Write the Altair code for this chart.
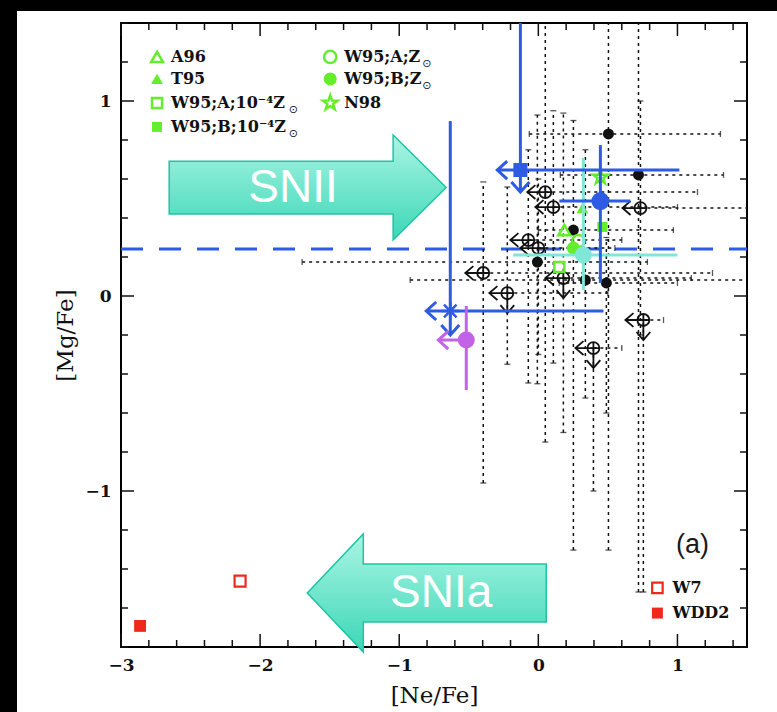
import altair as alt
import pandas as pd

# plot-area size in pixels and the axis ranges
W, H = 626, 624
X_DOMAIN = [-3.0, 1.5]
Y_DOMAIN = [-1.8, 1.4]

BLUE = "#2d5be3"
CYAN = "#80e6d8"
PURPLE = "#c262e6"
GREEN = "#63ee2b"
RED = "#f0281c"
INK = "#111111"

# ---------------- data ----------------
# observed detections (black filled circles) and their ranges
det_x = [0.504, 0.720, -0.007, 0.338, 0.489, 0.252]
det_y = [0.831, 0.621, 0.174, 0.082, 0.067, 0.338]
det_xlo = [-0.065, 0.158, -1.698, -0.921, 0.150, 0.000]
det_xhi = [1.309, 1.331, 0.784, 1.550, 1.000, 0.971]
det_ylo = [-1.303, -1.518, -0.450, -0.523, -0.600, -1.303]
det_yhi = [1.600, 1.600, 0.928, 0.750, 0.300, 0.900]

# observed upper limits (circled plus with arrows)
lim_x = [0.050, 0.108, 0.734, -0.072, 0.000, -0.396, -0.223, 0.180, 0.755, 0.396]
lim_y = [0.533, 0.456, 0.451, 0.287, 0.246, 0.118, 0.015, 0.092, -0.123, -0.267]
lim_xhi = [1.144, 1.000, 1.600, 0.600, 0.550, 1.252, 0.500, 1.100, 0.900, 0.600]
lim_ylo = [-0.749, -0.344, -0.200, -0.446, -0.300, -0.959, -0.350, -0.700, -1.518, -1.000]
lim_yhi = [1.600, 0.950, 1.000, 0.750, 0.600, 0.585, 0.559, 0.938, -0.123, -0.267]
lim_down = [False, False, False, False, False, False, True, True, True, True]

# blue points: square (limit), circle, asterisk (limit)
blue_x = [-0.129, 0.446, -0.633]
blue_y = [0.646, 0.487, -0.077]
blue_xlo = [-0.129, 0.151, -0.633]
blue_xhi = [1.014, 0.662, 0.468]
blue_ylo = [0.646, 0.067, -0.077]
blue_yhi = [1.600, 0.774, 0.897]

cyan_x, cyan_y = [0.324], [0.210]
cyan_xlo, cyan_xhi = [-0.180], [1.000]
cyan_ylo, cyan_yhi = [0.031], [0.708]

purple_x, purple_y = [-0.518], [-0.226]
purple_ylo, purple_yhi = [-0.482], [-0.051]

# SN II yield models (green)
model_names = ["A96", "T95", "W95;A;10⁻⁴Z", "W95;B;10⁻⁴Z", "W95;A;Z", "W95;B;Z", "N98"]
model_x = [0.187, 0.317, 0.151, 0.460, 0.288, 0.252, 0.446]
model_y = [0.338, 0.451, 0.149, 0.354, 0.282, 0.246, 0.610]

# SN Ia yield models (red)
ia_names = ["W7", "WDD2"]
ia_x = [-2.144, -2.863]
ia_y = [-1.462, -1.692]

solar_mgfe = [0.241]

x_major = [-3, -2, -1, 0, 1]
y_major = [-1, 0, 1]
x_minor = [round(-3 + 0.2 * i, 1) for i in range(23) if round(-3 + 0.2 * i, 1) not in x_major]
y_minor = [round(-1.8 + 0.2 * i, 1) for i in range(17) if round(-1.8 + 0.2 * i, 1) not in y_major]

# ---------------- axes / helpers ----------------
AXIS_STYLE = dict(ticks=False, domain=False, grid=False, labelFlush=False,
                  labelFont="DejaVu Serif", labelFontSize=17, labelFontWeight="bold", labelColor=INK,
                  labelPadding=10, titleFont="DejaVu Serif", titleFontSize=23, titleFontWeight="normal",
                  titleColor=INK, titleBaseline="middle", zindex=1)
X_AXIS = alt.Axis(values=x_major, title="[Ne/Fe]", titleY=48, **AXIS_STYLE)
Y_AXIS = alt.Axis(values=y_major, title="[Mg/Fe]", titleX=-56, **AXIS_STYLE)


def xs(field):
    return alt.X(f"{field}:Q", scale=alt.Scale(domain=X_DOMAIN, nice=False, zero=False), axis=X_AXIS)


def ys(field):
    return alt.Y(f"{field}:Q", scale=alt.Scale(domain=Y_DOMAIN, nice=False, zero=False), axis=Y_AXIS)


def pt(x, y, **extra):
    d = {"x": [x], "y": [y]}
    d.update({k: [v] for k, v in extra.items()})
    return pd.DataFrame(d)


STAR = ("M0,-1 L0.235,-0.324 L0.951,-0.309 L0.380,0.124 L0.588,0.809 L0,0.4 "
        "L-0.588,0.809 L-0.380,0.124 L-0.951,-0.309 L-0.235,-0.324 Z")
OPLUS = "M0.2,0 A0.2,0.2 0 1,1 -0.2,0 A0.2,0.2 0 1,1 0.2,0 Z M-0.2,0 L0.2,0 M0,-0.2 L0,0.2"
LEFT_SMALL = "M-0.2,0 L-0.6,0 M-0.33,-0.23 L-0.6,0 L-0.33,0.23"
DOWN_SMALL = "M0,0.2 L0,0.67 M-0.23,0.4 L0,0.67 L0.23,0.4"
SQ_ARROWS = "M0,0 L-0.77,0 M-0.44,-0.3 L-0.77,0 L-0.44,0.3 M0,0 L0,0.73 M-0.3,0.4 L0,0.73 L0.3,0.4"
AST_ARROWS = "M0,0 L-0.8,0 M-0.47,-0.3 L-0.8,0 L-0.47,0.3 M0,0 L0,0.8 M-0.3,0.47 L0,0.8 L0.3,0.47"
ASTERISK = "M-0.3,0 L0.3,0 M0,-0.3 L0,0.3 M-0.21,-0.21 L0.21,0.21 M-0.21,0.21 L0.21,-0.21"
PURPLE_LEFT = "M0,0 L-0.93,0 M-0.6,-0.3 L-0.93,0 L-0.6,0.3"
SNII_SHAPE = "M-1,-0.191 L0.617,-0.191 L0.617,-0.379 L1,0 L0.617,0.379 L0.617,0.191 L-1,0.191 Z"
SNIA_SHAPE = "M1,-0.243 L-0.531,-0.243 L-0.531,-0.494 L-1,0 L-0.531,0.494 L-0.531,0.243 L1,0.243 Z"

model_style = [
    ("triangle-up", False, 140),
    ("triangle-up", True, 140),
    ("square", False, 100),
    ("square", True, 100),
    ("circle", False, 150),
    ("circle", True, 170),
    (STAR, False, 230),
]

layers = []

# solar-ratio dashed line
layers.append(
    alt.Chart(pd.DataFrame({"y": solar_mgfe}))
    .mark_rule(color=BLUE, strokeWidth=3, strokeDash=[22, 16])
    .encode(y=ys("y"), x=alt.value(0), x2=alt.value(W))
)

# dotted ranges of the observed points
obs = pd.DataFrame({
    "x": det_x + lim_x, "y": det_y + lim_y,
    "xlo": det_xlo + lim_x, "xhi": det_xhi + lim_xhi,
    "ylo": det_ylo + lim_ylo, "yhi": det_yhi + lim_yhi,
})
dotted = dict(color=INK, strokeWidth=1.5, strokeDash=[3, 4], clip=True)
layers.append(alt.Chart(obs).mark_rule(**dotted).encode(x=xs("xlo"), x2="xhi", y=ys("y")))
layers.append(alt.Chart(obs).mark_rule(**dotted).encode(x=xs("x"), y=ys("ylo"), y2="yhi"))

hcaps = pd.DataFrame({"cx": det_xlo + det_xhi + lim_xhi,
                      "cy": det_y + det_y + lim_y})
vcaps = pd.DataFrame({"cx": list(obs["x"]) * 2,
                      "cy": list(obs["ylo"]) + list(obs["yhi"])})
layers.append(alt.Chart(hcaps).mark_tick(orient="vertical", size=6, thickness=1.3, color=INK, clip=True)
              .encode(x=xs("cx"), y=ys("cy")))
layers.append(alt.Chart(vcaps).mark_tick(orient="horizontal", size=6, thickness=1.3, color=INK, clip=True)
              .encode(x=xs("cx"), y=ys("cy")))

# detections
layers.append(alt.Chart(pd.DataFrame({"x": det_x, "y": det_y}))
              .mark_circle(size=121, color=INK, opacity=1).encode(x=xs("x"), y=ys("y")))

# upper limits
lim = pd.DataFrame({"x": lim_x, "y": lim_y, "down": lim_down})
sym = dict(filled=False, color=INK, strokeWidth=1.8, size=3600, opacity=1)
layers.append(alt.Chart(lim).mark_point(shape=OPLUS, **sym).encode(x=xs("x"), y=ys("y")))
layers.append(alt.Chart(lim).mark_point(shape=LEFT_SMALL, **sym).encode(x=xs("x"), y=ys("y")))
layers.append(alt.Chart(lim).transform_filter("datum.down")
              .mark_point(shape=DOWN_SMALL, **sym).encode(x=xs("x"), y=ys("y")))


def model_mark(df, shape, filled, size):
    if filled:
        return alt.Chart(df).mark_point(shape=shape, filled=True, color=GREEN, size=size,
                                        strokeWidth=0, opacity=1)
    return alt.Chart(df).mark_point(shape=shape, filled=False, color=GREEN, size=size,
                                    strokeWidth=2.5, opacity=1)


# SN II models in the data area
for (shape, filled, size), mx, my in zip(model_style, model_x, model_y):
    layers.append(model_mark(pt(mx, my), shape, filled, size).encode(x=xs("x"), y=ys("y")))

# cyan point
cyan = pd.DataFrame({"x": cyan_x, "y": cyan_y, "xlo": cyan_xlo, "xhi": cyan_xhi,
                     "ylo": cyan_ylo, "yhi": cyan_yhi})
layers.append(alt.Chart(cyan).mark_rule(color=CYAN, strokeWidth=3).encode(x=xs("xlo"), x2="xhi", y=ys("y")))
layers.append(alt.Chart(cyan).mark_rule(color=CYAN, strokeWidth=3).encode(x=xs("x"), y=ys("ylo"), y2="yhi"))
layers.append(alt.Chart(cyan).mark_circle(size=289, color=CYAN, opacity=1).encode(x=xs("x"), y=ys("y")))

# blue points
blue = pd.DataFrame({"x": blue_x, "y": blue_y, "xlo": blue_xlo, "xhi": blue_xhi,
                     "ylo": blue_ylo, "yhi": blue_yhi, "kind": ["square", "circle", "asterisk"]})
layers.append(alt.Chart(blue).mark_rule(color=BLUE, strokeWidth=3, clip=True)
              .encode(x=xs("xlo"), x2="xhi", y=ys("y")))
layers.append(alt.Chart(blue).mark_rule(color=BLUE, strokeWidth=3, clip=True)
              .encode(x=xs("x"), y=ys("ylo"), y2="yhi"))
layers.append(alt.Chart(blue).transform_filter("datum.kind == 'square'")
              .mark_point(shape="square", filled=True, color=BLUE, size=196, opacity=1)
              .encode(x=xs("x"), y=ys("y")))
layers.append(alt.Chart(blue).transform_filter("datum.kind == 'circle'")
              .mark_circle(color=BLUE, size=324, opacity=1).encode(x=xs("x"), y=ys("y")))
layers.append(alt.Chart(blue).transform_filter("datum.kind == 'square'")
              .mark_point(shape=SQ_ARROWS, filled=False, color=BLUE, strokeWidth=3, size=3600, opacity=1)
              .encode(x=xs("x"), y=ys("y")))
layers.append(alt.Chart(blue).transform_filter("datum.kind == 'asterisk'")
              .mark_point(shape=AST_ARROWS, filled=False, color=BLUE, strokeWidth=3, size=3600, opacity=1)
              .encode(x=xs("x"), y=ys("y")))
layers.append(alt.Chart(blue).transform_filter("datum.kind == 'asterisk'")
              .mark_point(shape=ASTERISK, filled=False, color=BLUE, strokeWidth=2.5, size=3600, opacity=1)
              .encode(x=xs("x"), y=ys("y")))

# purple point
purple = pd.DataFrame({"x": purple_x, "y": purple_y, "ylo": purple_ylo, "yhi": purple_yhi})
layers.append(alt.Chart(purple).mark_rule(color=PURPLE, strokeWidth=3).encode(x=xs("x"), y=ys("ylo"), y2="yhi"))
layers.append(alt.Chart(purple).mark_point(shape=PURPLE_LEFT, filled=False, color=PURPLE, strokeWidth=3,
                                           size=3600, opacity=1).encode(x=xs("x"), y=ys("y")))
layers.append(alt.Chart(purple).mark_circle(color=PURPLE, size=289, opacity=1).encode(x=xs("x"), y=ys("y")))

# SN Ia models
layers.append(alt.Chart(pt(ia_x[0], ia_y[0])).mark_point(shape="square", filled=False, color=RED,
                                                         strokeWidth=2.2, size=121, opacity=1)
              .encode(x=xs("x"), y=ys("y")))
layers.append(alt.Chart(pt(ia_x[1], ia_y[1])).mark_point(shape="square", filled=True, color=RED,
                                                         size=140, opacity=1)
              .encode(x=xs("x"), y=ys("y")))

# SNII / SNIa direction arrows
arrow_fill = alt.Gradient(
    gradient="linear",
    stops=[alt.GradientStop(color="#aaf5e4", offset=0), alt.GradientStop(color="#3cd7b6", offset=1)],
    x1=0, x2=0, y1=0, y2=1,
)
for shape, size, (ax, ay), label, (tx, ty) in [
    (SNII_SHAPE, 277 ** 2, (-1.658, 0.556), "SNII", (-1.763, 0.556)),
    (SNIA_SHAPE, 239 ** 2, (-0.802, -1.523), "SNIa", (-0.698, -1.523)),
]:
    layers.append(alt.Chart(pt(ax, ay)).mark_point(shape=shape, size=size, filled=True, fill=arrow_fill,
                                                   stroke="#1fc4a2", strokeWidth=1.5, opacity=1)
                  .encode(x=xs("x"), y=ys("y")))
    layers.append(alt.Chart(pt(tx, ty, t=label)).mark_text(font="Liberation Sans", fontSize=46, color="white",
                                                           align="center", baseline="middle")
                  .encode(x=xs("x"), y=ys("y"), text="t:N"))

# key for the SN II models (top left)
key_cols = [(-2.741, -2.640), (-1.496, -1.396)]
key_rows = [1.226, 1.113, 0.990, 0.867]
key_slots = [(0, 0), (0, 1), (0, 2), (0, 3), (1, 0), (1, 1), (1, 2)]
sun_x = {2: -1.795, 3: -1.795, 4: -0.835, 5: -0.835}
for i, ((shape, filled, size), name, (c, r)) in enumerate(zip(model_style, model_names, key_slots)):
    mx, tx = key_cols[c]
    my = key_rows[r]
    layers.append(model_mark(pt(mx, my), shape, filled, size).encode(x=xs("x"), y=ys("y")))
    layers.append(alt.Chart(pt(tx, my, t=name)).mark_text(font="DejaVu Serif", fontWeight="bold", fontSize=16,
                                                          color=INK, align="left", baseline="middle")
                  .encode(x=xs("x"), y=ys("y"), text="t:N"))
    if i in sun_x:
        layers.append(alt.Chart(pt(sun_x[i], my, t="⊙")).mark_text(font="DejaVu Sans", fontSize=11,
                                                                   color=INK, align="left", baseline="middle",
                                                                   dy=7)
                      .encode(x=xs("x"), y=ys("y"), text="t:N"))

# key for the SN Ia models (bottom right)
layers.append(alt.Chart(pt(0.856, -1.497)).mark_point(shape="square", filled=False, color=RED,
                                                      strokeWidth=2.2, size=110, opacity=1)
              .encode(x=xs("x"), y=ys("y")))
layers.append(alt.Chart(pt(0.856, -1.626)).mark_point(shape="square", filled=True, color=RED,
                                                      size=120, opacity=1)
              .encode(x=xs("x"), y=ys("y")))
for name, ky in zip(ia_names, [-1.497, -1.626]):
    layers.append(alt.Chart(pt(0.964, ky, t=name)).mark_text(font="DejaVu Serif", fontWeight="bold", fontSize=16,
                                                             color=INK, align="left", baseline="middle")
                  .encode(x=xs("x"), y=ys("y"), text="t:N"))

# panel label
layers.append(alt.Chart(pt(1.108, -1.277, t="(a)")).mark_text(font="Liberation Sans", fontSize=27,
                                                              color="#1a1a1a", align="center", baseline="middle")
              .encode(x=xs("x"), y=ys("y"), text="t:N"))

# inward tick marks on all four sides
for vals, L in [(x_major, 13), (x_minor, 7)]:
    d = pd.DataFrame({"v": vals})
    layers.append(alt.Chart(d).mark_rule(color=INK, strokeWidth=1.5)
                  .encode(x=xs("v"), y=alt.value(H), y2=alt.value(H - L)))
    layers.append(alt.Chart(d).mark_rule(color=INK, strokeWidth=1.5)
                  .encode(x=xs("v"), y=alt.value(0), y2=alt.value(L)))
for vals, L in [(y_major, 13), (y_minor, 7)]:
    d = pd.DataFrame({"v": vals})
    layers.append(alt.Chart(d).mark_rule(color=INK, strokeWidth=1.5)
                  .encode(y=ys("v"), x=alt.value(0), x2=alt.value(L)))
    layers.append(alt.Chart(d).mark_rule(color=INK, strokeWidth=1.5)
                  .encode(y=ys("v"), x=alt.value(W), x2=alt.value(W - L)))

# dark border strips along the top and left edge of the page
edge = pd.DataFrame({"k": [0]})
layers.append(alt.Chart(edge).mark_rect(color="black")
              .encode(x=alt.value(-121), x2=alt.value(W + 30), y=alt.value(-23), y2=alt.value(-12)))
layers.append(alt.Chart(edge).mark_rect(color="black")
              .encode(x=alt.value(-121), x2=alt.value(-104), y=alt.value(-23), y2=alt.value(H + 65)))

chart = (
    alt.layer(*layers)
    .properties(width=W, height=H, background="white",
                padding={"left": 121, "top": 23, "right": 30, "bottom": 65},
                autosize=alt.AutoSizeParams(type="none"))
    .configure_view(stroke="black", strokeWidth=2)
)

chart.save("out.html", embed_options={"renderer": "svg", "actions": False})
